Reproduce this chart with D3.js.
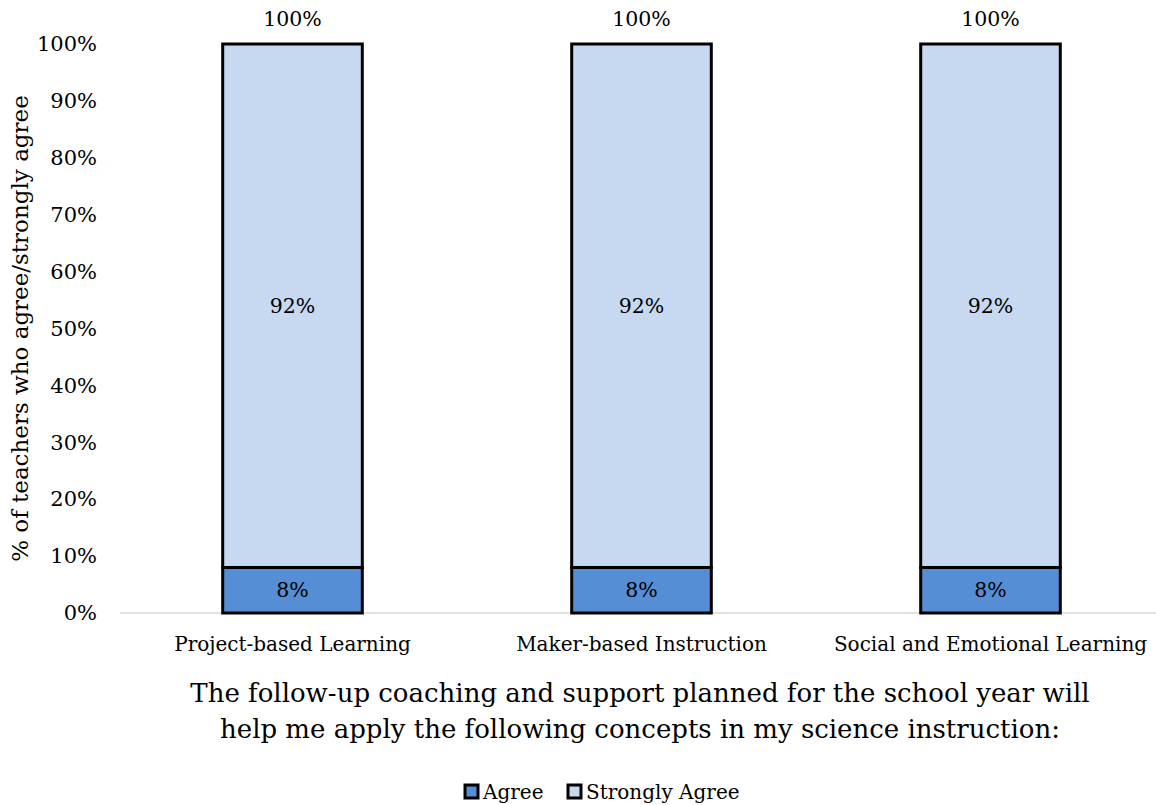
<!DOCTYPE html>
<html>
<head>
<meta charset="utf-8">
<script src="https://cdn.jsdelivr.net/npm/d3@7"></script>
<style>
  html, body { margin: 0; padding: 0; background: #fff; }
  svg text { font-family: "DejaVu Serif", "Liberation Serif", serif; fill: #000; }
</style>
</head>
<body>
<svg id="chart" width="1156" height="805"></svg>
<script>
const categories = ["Project-based Learning", "Maker-based Instruction", "Social and Emotional Learning"];
const agree = [8, 8, 8];
const stronglyAgree = [92, 92, 92];
const totals = [100, 100, 100];
const seriesNames = ["Agree", "Strongly Agree"];
const seriesColors = ["#558ed5", "#c6d9f1"];
const yTicks = [0, 10, 20, 30, 40, 50, 60, 70, 80, 90, 100];
const titleLines = [
  "The follow-up coaching and support planned for the school year will",
  "help me apply the following concepts in my science instruction:"
];
const yAxisTitle = "% of teachers who agree/strongly agree";

const svg = d3.select("#chart");
const plot = { left: 118, right: 1165, top: 44, bottom: 613 };

const x = d3.scaleBand().domain(categories).range([plot.left, plot.right])
  .paddingInner(0.6).paddingOuter(0.3);
const y = d3.scaleLinear().domain([0, 100]).range([plot.bottom, plot.top]);

const rows = categories.map((c, i) => ({ category: c, Agree: agree[i], "Strongly Agree": stronglyAgree[i], total: totals[i] }));
const stacked = d3.stack().keys(seriesNames)(rows);

// baseline
svg.append("line")
  .attr("x1", 120).attr("x2", 1156)
  .attr("y1", y(0)).attr("y2", y(0))
  .attr("stroke", "#d9d9d9").attr("stroke-width", 1.5);

// y axis tick labels
const yAxis = d3.axisLeft(y).tickValues(yTicks).tickFormat(d => d + "%").tickSize(0).tickPadding(0);
const yg = svg.append("g").attr("transform", `translate(97,0)`).call(yAxis);
yg.select(".domain").remove();
yg.selectAll("text").attr("font-size", 21).attr("font-family", "DejaVu Serif").attr("fill", "#000");

// stacked bars
stacked.forEach((layer, li) => {
  svg.append("g").selectAll("rect").data(layer).join("rect")
    .attr("x", d => x(d.data.category))
    .attr("width", x.bandwidth())
    .attr("y", d => y(d[1]))
    .attr("height", d => y(d[0]) - y(d[1]))
    .attr("fill", seriesColors[li])
    .attr("stroke", "#000").attr("stroke-width", 3);
  svg.append("g").selectAll("text").data(layer).join("text")
    .attr("x", d => x(d.data.category) + x.bandwidth() / 2)
    .attr("y", d => y((d[0] + d[1]) / 2))
    .attr("dy", "0.35em")
    .attr("text-anchor", "middle")
    .attr("font-size", 20.5)
    .text(d => (d[1] - d[0]) + "%");
});

// totals above bars
svg.append("g").selectAll("text").data(rows).join("text")
  .attr("x", d => x(d.category) + x.bandwidth() / 2)
  .attr("y", d => y(d.total) - 25)
  .attr("dy", "0.35em")
  .attr("text-anchor", "middle")
  .attr("font-size", 20.5)
  .text(d => d.total + "%");

// category axis labels
const xAxis = d3.axisBottom(x).tickSize(0).tickPadding(0);
const xg = svg.append("g").attr("transform", `translate(0,${plot.bottom + 38})`).call(xAxis);
xg.select(".domain").remove();
xg.selectAll("text").attr("font-size", 20).attr("font-family", "DejaVu Serif").attr("fill", "#000").attr("dy", 0);

// y axis title
svg.append("text")
  .attr("transform", `translate(28,${(plot.top + plot.bottom) / 2}) rotate(-90)`)
  .attr("text-anchor", "middle")
  .attr("font-size", 23)
  .text(yAxisTitle);

// x axis title (two lines)
svg.append("g").selectAll("text").data(titleLines).join("text")
  .attr("x", 640)
  .attr("y", (d, i) => 702 + i * 36)
  .attr("text-anchor", "middle")
  .attr("font-size", 26)
  .text(d => d);

// legend
const legendItems = [
  { name: seriesNames[0], color: seriesColors[0], x: 465 },
  { name: seriesNames[1], color: seriesColors[1], x: 568 }
];
const lg = svg.append("g").selectAll("g").data(legendItems).join("g")
  .attr("transform", d => `translate(${d.x},792)`);
lg.append("rect").attr("x", 0).attr("y", -7).attr("width", 13).attr("height", 13)
  .attr("fill", d => d.color).attr("stroke", "#000").attr("stroke-width", 3);
lg.append("text").attr("x", 18).attr("dy", "0.35em").attr("font-size", 20).text(d => d.name);
</script>
</body>
</html>
